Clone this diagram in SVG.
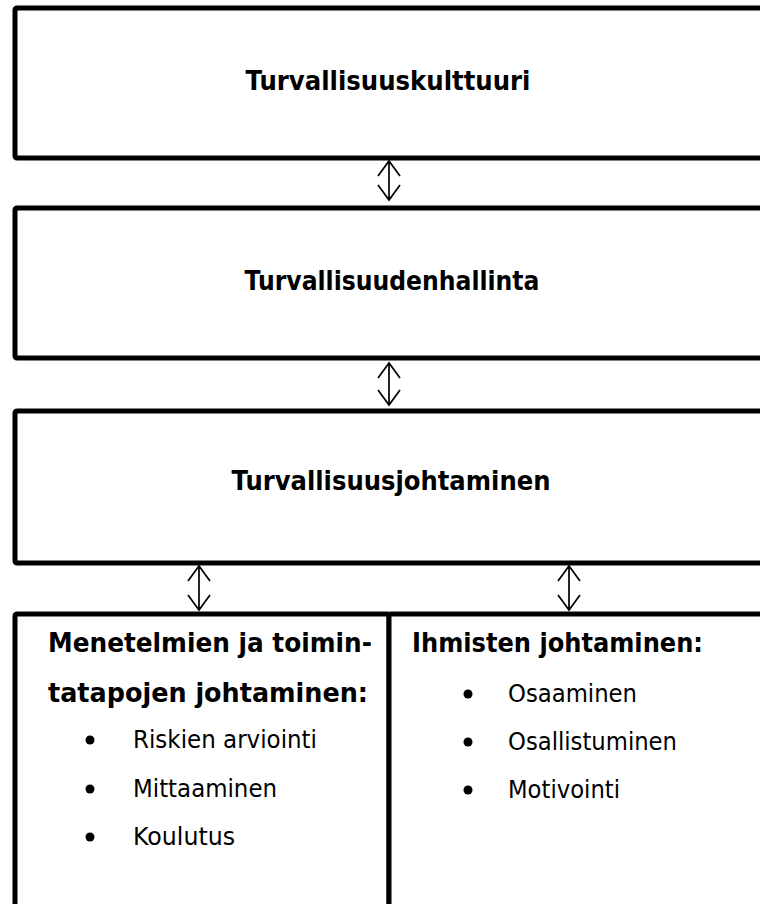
<svg xmlns="http://www.w3.org/2000/svg" width="760" height="904" viewBox="0 0 760 904">
<style>
.box{fill:#fff;stroke:#000;stroke-width:5;stroke-linejoin:round}
.t{font-family:"DejaVu Sans","Liberation Sans",sans-serif;font-weight:bold;font-size:26px;fill:#000}
.r{font-family:"DejaVu Sans","Liberation Sans",sans-serif;font-size:24px;fill:#000}
.c{fill:none;stroke:#000;stroke-width:1.7;stroke-linejoin:miter}
</style>
<rect width="760" height="904" fill="#fff"/>
<g id="n1"><rect class="box" x="15" y="8" width="760" height="150" rx="2"/>
<text class="t" x="388" y="90" text-anchor="middle" textLength="285" lengthAdjust="spacingAndGlyphs">Turvallisuuskulttuuri</text></g>
<g id="n2"><rect class="box" x="15" y="208" width="760" height="150" rx="2"/>
<text class="t" x="392" y="290" text-anchor="middle" textLength="295" lengthAdjust="spacingAndGlyphs">Turvallisuudenhallinta</text></g>
<g id="n3"><rect class="box" x="15" y="411" width="760" height="152" rx="2"/>
<text class="t" x="391" y="490" text-anchor="middle" textLength="319" lengthAdjust="spacingAndGlyphs">Turvallisuusjohtaminen</text></g>
<g id="n4"><rect class="box" x="15" y="614" width="374" height="300" rx="2"/>
<text class="t" x="48" y="652" textLength="324" lengthAdjust="spacingAndGlyphs">Menetelmien ja toimin-</text>
<text class="t" x="48" y="702" textLength="320" lengthAdjust="spacingAndGlyphs">tatapojen johtaminen:</text>
<circle cx="90" cy="740" r="4.5"/><text class="r" x="133" y="748" textLength="184" lengthAdjust="spacingAndGlyphs">Riskien arviointi</text>
<circle cx="90" cy="789" r="4.5"/><text class="r" x="133" y="797" textLength="144" lengthAdjust="spacingAndGlyphs">Mittaaminen</text>
<circle cx="90" cy="837" r="4.5"/><text class="r" x="133" y="845" textLength="102" lengthAdjust="spacingAndGlyphs">Koulutus</text></g>
<g id="n5"><rect class="box" x="389" y="614" width="380" height="300" rx="2"/>
<text class="t" x="412" y="652" textLength="291" lengthAdjust="spacingAndGlyphs">Ihmisten johtaminen:</text>
<circle cx="468" cy="694" r="4.5"/><text class="r" x="508" y="702" textLength="129" lengthAdjust="spacingAndGlyphs">Osaaminen</text>
<circle cx="468" cy="742" r="4.5"/><text class="r" x="508" y="750" textLength="169" lengthAdjust="spacingAndGlyphs">Osallistuminen</text>
<circle cx="468" cy="790" r="4.5"/><text class="r" x="508" y="798" textLength="112" lengthAdjust="spacingAndGlyphs">Motivointi</text></g>
<g id="connectors">
<path class="c" d="M389 161V200M378 176L389 161L400 176M378 185L389 200L400 185"/>
<path class="c" d="M389 363V405M378 378L389 363L400 378M378 390L389 405L400 390"/>
<path class="c" d="M199 566V610M188 581L199 566L210 581M188 595L199 610L210 595"/>
<path class="c" d="M569 566V610M558 581L569 566L580 581M558 595L569 610L580 595"/>
</g>
</svg>
